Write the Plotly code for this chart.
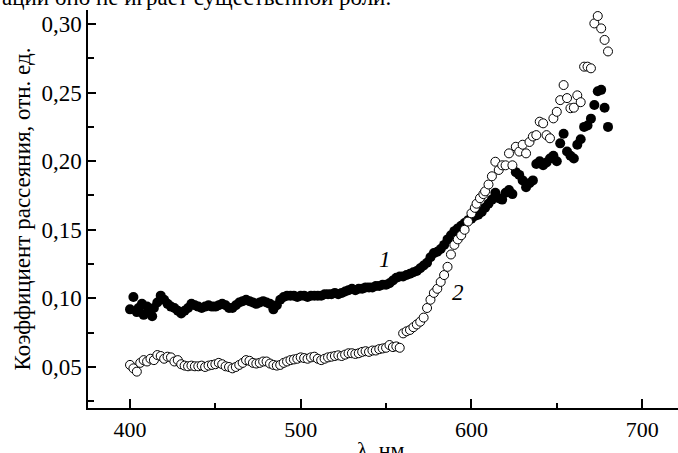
import plotly.graph_objects as go

# Series 1 (filled circles)
wl_1 = [400, 402, 404, 405, 407, 408, 410, 411, 413, 414, 416, 418, 420, 422, 424, 426, 428, 430,
        432, 434, 436, 438, 440, 442, 444, 446, 448, 450, 452, 454, 456, 458, 460, 462, 464, 466,
        468, 470, 472, 474, 476, 478, 480, 482, 484, 486, 488, 490, 492, 494, 496, 498, 500, 502,
        504, 506, 508, 510, 512, 514, 516, 518, 520, 522, 524, 526, 528, 530, 532, 534, 536, 538,
        540, 542, 544, 546, 548, 550, 552, 554, 556, 558, 560, 562, 564, 566, 568, 570, 572, 574,
        576, 578, 580, 582, 584, 586, 588, 590, 592, 594, 596, 598, 600, 602, 604, 606, 608, 610,
        612, 614, 616, 618, 620, 622, 624, 626, 628, 630, 632, 634, 636, 638, 640, 642, 644, 646,
        648, 650, 652, 654, 656, 658, 660, 662, 664, 666, 668, 670, 672, 674, 676, 678, 680]
val_1 = [0.092, 0.101, 0.090, 0.093, 0.096, 0.088, 0.094, 0.091, 0.087, 0.093, 0.097, 0.102, 0.099,
         0.096, 0.094, 0.093, 0.091, 0.089, 0.091, 0.093, 0.096, 0.095, 0.094, 0.093, 0.094, 0.095,
         0.094, 0.094, 0.095, 0.096, 0.095, 0.093, 0.093, 0.095, 0.097, 0.098, 0.099, 0.098, 0.097,
         0.096, 0.097, 0.098, 0.097, 0.096, 0.092, 0.095, 0.099, 0.101, 0.102, 0.102, 0.102, 0.101,
         0.102, 0.102, 0.101, 0.102, 0.102, 0.102, 0.102, 0.103, 0.103, 0.103, 0.104, 0.103, 0.104,
         0.105, 0.106, 0.107, 0.106, 0.107, 0.107, 0.108, 0.108, 0.108, 0.109, 0.109, 0.110, 0.110,
         0.111, 0.113, 0.115, 0.116, 0.116, 0.117, 0.118, 0.119, 0.120, 0.122, 0.124, 0.126, 0.130,
         0.133, 0.134, 0.136, 0.139, 0.143, 0.146, 0.149, 0.151, 0.153, 0.155, 0.157, 0.158, 0.160,
         0.161, 0.163, 0.166, 0.169, 0.172, 0.177, 0.173, 0.172, 0.177, 0.179, 0.176, 0.192, 0.190,
         0.186, 0.181, 0.184, 0.186, 0.198, 0.200, 0.197, 0.199, 0.202, 0.204, 0.200, 0.213, 0.220,
         0.207, 0.204, 0.202, 0.212, 0.216, 0.225, 0.226, 0.231, 0.241, 0.251, 0.252, 0.239, 0.225]

# Series 2 (open circles)
wl_2 = [400, 402, 404, 406, 408, 410, 412, 414, 416, 418, 420, 422, 424, 426, 428, 430, 432, 434,
        436, 438, 440, 442, 444, 446, 448, 450, 452, 454, 456, 458, 460, 462, 464, 466, 468, 470,
        472, 474, 476, 478, 480, 482, 484, 486, 488, 490, 492, 494, 496, 498, 500, 502, 504, 506,
        508, 510, 512, 514, 516, 518, 520, 522, 524, 526, 528, 530, 532, 534, 536, 538, 540, 542,
        544, 546, 548, 550, 552, 554, 556, 558, 560, 562, 564, 566, 568, 570, 572, 574, 576, 578,
        580, 582, 584, 586, 588, 590, 592, 594, 596, 598, 600, 602, 603, 605, 607, 608, 610, 612,
        614, 616, 618, 620, 622, 624, 626, 628, 630, 632, 634, 636, 638, 640, 642, 644, 646, 648,
        650, 652, 654, 656, 658, 660, 662, 664, 666, 668, 670, 672, 674, 676, 678, 680]
val_2 = [0.0515, 0.049, 0.0466, 0.053, 0.055, 0.054, 0.056, 0.055, 0.0587, 0.058, 0.056, 0.0575,
         0.057, 0.054, 0.055, 0.052, 0.051, 0.0505, 0.051, 0.0505, 0.0505, 0.051, 0.050, 0.051,
         0.0515, 0.052, 0.053, 0.052, 0.0505, 0.050, 0.049, 0.050, 0.0515, 0.053, 0.055, 0.0545,
         0.053, 0.0525, 0.053, 0.054, 0.054, 0.0525, 0.0515, 0.051, 0.0515, 0.053, 0.054, 0.055,
         0.0555, 0.056, 0.057, 0.0565, 0.056, 0.057, 0.0575, 0.056, 0.055, 0.056, 0.057, 0.0575,
         0.058, 0.0585, 0.058, 0.059, 0.060, 0.060, 0.0595, 0.060, 0.061, 0.0615, 0.061, 0.062,
         0.062, 0.063, 0.0635, 0.064, 0.066, 0.0645, 0.065, 0.064, 0.0745, 0.076, 0.077, 0.079,
         0.081, 0.083, 0.086, 0.093, 0.099, 0.104, 0.107, 0.112, 0.117, 0.123, 0.132, 0.139, 0.143,
         0.146, 0.150, 0.156, 0.162, 0.166, 0.169, 0.173, 0.176, 0.178, 0.183, 0.189, 0.1996,
         0.1936, 0.197, 0.197, 0.2057, 0.197, 0.2105, 0.207, 0.212, 0.2057, 0.214, 0.218, 0.219,
         0.2288, 0.2276, 0.219, 0.2167, 0.2312, 0.236, 0.2445, 0.2555, 0.246, 0.2386, 0.239, 0.248,
         0.243, 0.2689, 0.2689, 0.2677, 0.3004, 0.3058, 0.2968, 0.2884, 0.280]

y_ticks = [0.05, 0.10, 0.15, 0.20, 0.25, 0.30]
y_tick_labels = ["0,05", "0,10", "0,15", "0,20", "0,25", "0,30"]
y_minor = [0.025, 0.075, 0.125, 0.175, 0.225, 0.275]
x_ticks = [400, 500, 600, 700]
x_tick_labels = ["400", "500", "600", "700"]
x_minor = [450, 550, 650]

FONT = "Liberation Serif"

fig = go.Figure()
fig.add_trace(go.Scatter(
    x=wl_1, y=val_1, mode="markers", name="1",
    marker=dict(symbol="circle", size=10, color="black", line=dict(width=0)),
))
fig.add_trace(go.Scatter(
    x=wl_2, y=val_2, mode="markers", name="2",
    marker=dict(symbol="circle", size=9, color="white", line=dict(color="black", width=1)),
))

fig.update_layout(
    width=678, height=453,
    margin=dict(l=88, r=0, t=10, b=45),
    paper_bgcolor="white", plot_bgcolor="white",
    showlegend=False,
    font=dict(family=FONT, size=22, color="black"),
    xaxis=dict(
        range=[375.4, 721.0], automargin=False,
        showline=True, linecolor="black", linewidth=1.5,
        ticks="inside", ticklen=9, tickwidth=1.5, tickcolor="black",
        tickvals=x_ticks, ticktext=x_tick_labels,
        tickfont=dict(family=FONT, size=22),
        minor=dict(tickvals=x_minor, ticks="inside", ticklen=5, tickwidth=1.5, tickcolor="black"),
        showgrid=False, zeroline=False,
        ticklabelstandoff=1,
    ),
    yaxis=dict(
        range=[0.0201, 0.3102], automargin=False,
        showline=True, linecolor="black", linewidth=1.5,
        ticks="inside", ticklen=8, tickwidth=1.5, tickcolor="black",
        tickvals=y_ticks, ticktext=y_tick_labels,
        tickfont=dict(family=FONT, size=23),
        minor=dict(tickvals=y_minor, ticks="inside", ticklen=6, tickwidth=1.5, tickcolor="black"),
        showgrid=False, zeroline=False,
        ticklabelstandoff=0,
        title=dict(text="Коэффициент рассеяния, отн. ед.", font=dict(family=FONT, size=23), standoff=4),
    ),
    annotations=[
        dict(x=549.4, y=0.128, xref="x", yref="y", text="<i>1</i>", showarrow=False,
             font=dict(family=FONT, size=23)),
        dict(x=592.2, y=0.104, xref="x", yref="y", text="<i>2</i>", showarrow=False,
             font=dict(family=FONT, size=23)),
        # x-axis title (placed low, partly cut off by the page edge as in the reference)
        dict(x=0.495, y=-0.067, xref="paper", yref="paper", xanchor="center", yanchor="top",
             text="λ, нм", showarrow=False, font=dict(family=FONT, size=22)),
        dict(x=0, y=1.0, xref="paper", yref="paper", xanchor="left", yanchor="bottom",
             xshift=-88, yshift=-2,
             text="ации оно не играет существенной роли.", showarrow=False,
             font=dict(family=FONT, size=23)),
    ],
)

fig.write_html("out.html", config={"displayModeBar": False},
               post_script="document.body.style.margin='0';")
